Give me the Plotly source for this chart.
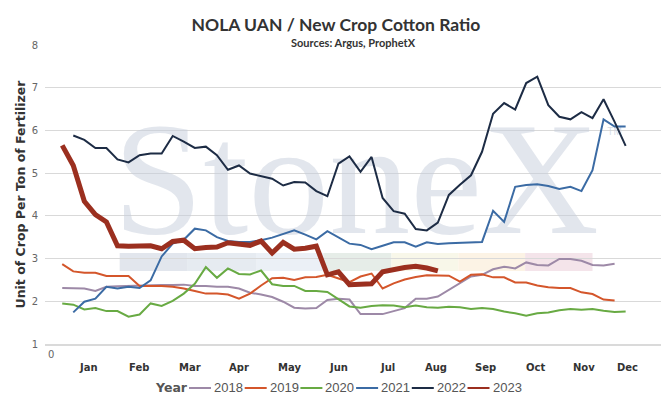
import plotly.graph_objects as go

# week number of year on the x axis
weeks_2018 = list(range(1, 52))
vals_2018 = [2.31, 2.30, 2.30, 2.24, 2.34, 2.35, 2.36, 2.36, 2.38, 2.38,
             2.38, 2.39, 2.36, 2.36, 2.34, 2.34, 2.30, 2.20, 2.16, 2.10,
             1.99, 1.85, 1.83, 1.84, 2.03, 2.06, 2.04, 1.70, 1.70, 1.70,
             1.77, 1.84, 2.06, 2.06, 2.11, 2.26, 2.41, 2.58, 2.62, 2.75,
             2.81, 2.77, 2.91, 2.85, 2.84, 2.99, 2.99, 2.95, 2.85, 2.84,
             2.88]

weeks_2019 = list(range(1, 52))
vals_2019 = [2.87, 2.70, 2.67, 2.67, 2.59, 2.59, 2.59, 2.36, 2.36, 2.36,
             2.34, 2.30, 2.24, 2.18, 2.18, 2.16, 2.06, 2.18, 2.37, 2.54,
             2.55, 2.50, 2.56, 2.57, 2.62, 2.53, 2.45, 2.58, 2.65, 2.30,
             2.42, 2.51, 2.57, 2.61, 2.61, 2.60, 2.46, 2.62, 2.63, 2.56,
             2.56, 2.44, 2.44, 2.37, 2.33, 2.31, 2.31, 2.21, 2.17, 2.04,
             2.02]

weeks_2020 = list(range(1, 53))
vals_2020 = [1.95, 1.92, 1.81, 1.84, 1.77, 1.77, 1.64, 1.69, 1.95, 1.89,
             2.01, 2.18, 2.41, 2.80, 2.55, 2.77, 2.64, 2.63, 2.72, 2.40,
             2.36, 2.36, 2.24, 2.24, 2.22, 2.06, 1.88, 1.85, 1.89, 1.91,
             1.90, 1.86, 1.90, 1.86, 1.85, 1.87, 1.86, 1.82, 1.84, 1.82,
             1.76, 1.72, 1.66, 1.72, 1.74, 1.79, 1.82, 1.80, 1.82, 1.78,
             1.75, 1.76]

weeks_2021 = list(range(2, 53))
vals_2021 = [1.74, 1.99, 2.06, 2.34, 2.30, 2.34, 2.31, 2.49, 3.05, 3.35,
             3.44, 3.70, 3.66, 3.50, 3.41, 3.39, 3.39, 3.43, 3.49, 3.58,
             3.66, 3.56, 3.45, 3.64, 3.49, 3.35, 3.32, 3.22, 3.30, 3.38,
             3.38, 3.28, 3.38, 3.34, 3.36, 3.37, 3.38, 3.39, 4.12, 3.86,
             4.68, 4.72, 4.74, 4.70, 4.63, 4.68, 4.58, 5.07, 6.26, 6.09,
             6.09]

weeks_2022 = list(range(2, 53))
vals_2022 = [5.88, 5.78, 5.59, 5.59, 5.32, 5.25, 5.42, 5.46, 5.46, 5.87,
             5.74, 5.59, 5.62, 5.42, 5.08, 5.18, 4.99, 4.93, 4.87, 4.71,
             4.79, 4.78, 4.58, 4.46, 5.22, 5.39, 5.03, 5.38, 4.42, 4.11,
             4.05, 3.69, 3.66, 3.84, 4.49, 4.73, 4.95, 5.50, 6.39, 6.64,
             6.49, 7.11, 7.26, 6.59, 6.32, 6.26, 6.43, 6.29, 6.73, 6.20,
             5.64]

weeks_2023 = list(range(1, 36))
vals_2023 = [5.65, 5.18, 4.34, 4.03, 3.86, 3.30, 3.29, 3.30, 3.30, 3.23,
             3.40, 3.43, 3.23, 3.26, 3.27, 3.37, 3.35, 3.31, 3.41, 3.13,
             3.38, 3.22, 3.24, 3.29, 2.62, 2.69, 2.39, 2.39, 2.41, 2.69,
             2.75, 2.79, 2.82, 2.78, 2.71]

month_names = ["Jan", "Feb", "Mar", "Apr", "May", "Jun",
               "Jul", "Aug", "Sep", "Oct", "Nov", "Dec"]
month_weeks = [3.35, 7.95, 12.55, 17.0, 21.6, 26.05,
               30.45, 34.85, 39.35, 43.8, 48.2, 52.2]

series = [
    ("2018", weeks_2018, vals_2018, "#9d89a7", 2),
    ("2019", weeks_2019, vals_2019, "#d4562b", 2),
    ("2020", weeks_2020, vals_2020, "#68aa43", 2),
    ("2021", weeks_2021, vals_2021, "#3b6ba4", 2),
    ("2022", weeks_2022, vals_2022, "#1d2c45", 2),
    ("2023", weeks_2023, vals_2023, "#9b2f1f", 5),
]

fig = go.Figure()

# StoneX watermark, drawn first so the lines sit on top of it
fig.add_trace(go.Scatter(
    x=[27.6], y=[4.55], mode="text", text=["StoneX"],
    textfont=dict(family="Liberation Serif", size=162, color="rgba(197,205,219,0.5)"),
    hoverinfo="skip", showlegend=False))
fig.add_trace(go.Scatter(
    x=[51.0], y=[5.95], mode="text", text=["TM"],
    textfont=dict(family="Liberation Sans", size=10, color="rgba(197,205,219,0.7)"),
    hoverinfo="skip", showlegend=False))

stripe_cols = ["#e2e6ed", "#e6ebf1", "#ebf0f6", "#e6ede8",
               "#f8f7e9", "#fcf3e5", "#f4e4ea"]
edges = [6.2, 12.3, 18.6, 24.7, 30.8, 36.85, 42.9, 49.0]
for i, c in enumerate(stripe_cols):
    fig.add_shape(type="rect", xref="x", yref="y", x0=edges[i], x1=edges[i + 1],
                  y0=2.71, y1=3.13, fillcolor=c, line_width=0, layer="below")

for name, wk, vals, col, w in series:
    fig.add_trace(go.Scatter(x=wk, y=vals, mode="lines", name=name,
                             line=dict(color=col, width=w), showlegend=False))

for m, wpos in zip(month_names, month_weeks):
    fig.add_annotation(x=wpos, y=0, xref="x", yref="paper", text=m,
                       showarrow=False, yshift=-23, yanchor="middle",
                       font=dict(family="DejaVu Sans", size=10, color="#333333", weight="bold"))

fig.add_annotation(x=0.5, y=1.0, xref="paper", yref="paper",
                   text="<b>Sources: Argus, ProphetX</b>", showarrow=False,
                   yanchor="middle", yshift=3,
                   font=dict(family="Lato", size=11, color="#333333"))

# legend row under the chart (plot area is 616 px wide, starts 45 px in)
def px_x(p):
    return (p - 45) / 616.0

leg_y = -44 / 299.0
fig.add_annotation(x=px_x(153), y=leg_y, xref="paper", yref="paper", text="<b>Year</b>",
                   showarrow=False, xanchor="left", yanchor="middle",
                   font=dict(family="DejaVu Sans", size=12.5, color="#555555"))
for i, (name, wk, vals, col, w) in enumerate(series):
    x0 = 189 + 55.7 * i
    fig.add_shape(type="line", xref="paper", yref="paper", x0=px_x(x0), x1=px_x(x0 + 22),
                  y0=leg_y, y1=leg_y, line=dict(color=col, width=2))
    fig.add_annotation(x=px_x(x0 + 23), y=leg_y, xref="paper", yref="paper", text=name,
                       showarrow=False, xanchor="left", yanchor="middle",
                       font=dict(family="Liberation Sans", size=13, color="#555555"))

fig.update_layout(
    width=672, height=411,
    margin=dict(l=45, r=11, t=45, b=67, autoexpand=False),
    paper_bgcolor="white", plot_bgcolor="white",
    title=dict(text="<b>NOLA UAN / New Crop Cotton Ratio</b>", x=0.5, xref="container",
               y=1 - 25 / 411, yref="container", yanchor="middle",
               font=dict(family="Lato", size=17.5, color="#333333")),
    xaxis=dict(range=[-0.56, 55.2], tickvals=[0], ticktext=["0"], showgrid=False,
               showline=True, linecolor="#dadada", linewidth=2, zeroline=False,
               automargin=False,
               tickfont=dict(family="DejaVu Sans", size=10, color="#666666")),
    yaxis=dict(range=[1, 8], dtick=1, showgrid=True, gridcolor="#d9d9d9", gridwidth=1,
               zeroline=False, ticklabelstandoff=6, automargin=False,
               tickfont=dict(family="DejaVu Sans", size=10, color="#666666"),
               title=dict(text="<b>Unit of Crop Per Ton of Fertilizer</b>", standoff=3,
                          font=dict(family="DejaVu Sans", size=12.5, color="#333333"))),
    showlegend=False,
)

fig.write_html("out.html", config={"displayModeBar": False},
               post_script="document.body.style.margin='0';")
